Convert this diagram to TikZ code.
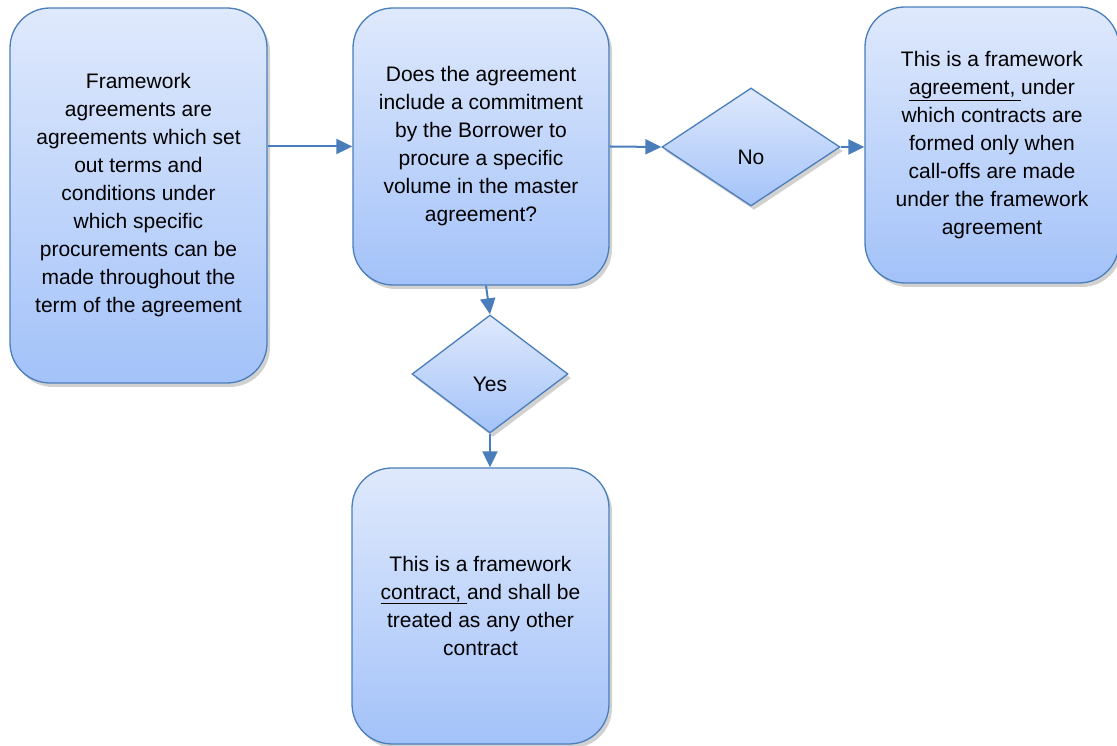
\documentclass[tikz,border=0pt]{standalone}
\usepackage{fontspec}
\setmainfont{Liberation Sans}
\usetikzlibrary{shapes.geometric,shadows,arrows.meta}
\definecolor{boxline}{RGB}{74,126,187}
\definecolor{boxtop}{RGB}{223,233,252}
\definecolor{boxbottom}{RGB}{163,194,249}
\tikzset{% change default arrow tips
    >={Triangle[length=16pt,width=15pt]}
}
\tikzset{
    shade/.style={draw=boxline, line width=1.3pt, top color=boxtop, bottom color=boxbottom,
        drop shadow={shadow xshift=3pt, shadow yshift=-4pt, fill=black!40, opacity=.45}},
    flowbox/.style={shade, rounded corners=40pt, align=center, inner sep=0pt,
        font=\fontsize{21}{28}\selectfont},
    decision/.style={shade, diamond, inner sep=0pt, text height=35pt, text depth=0pt,
        font=\fontsize{21}{28}\selectfont},
    flow/.style={->, draw=boxline, line width=2pt}
}

\begin{document}
\begin{tikzpicture}[x=1pt,y=1pt]
    \useasboundingbox (0,0) rectangle (1117,746);

    % boxes
    \node[flowbox, minimum width=257pt, minimum height=375pt] (frame) at (138.5,550.5)
        {Framework\\ agreements are\\ agreements which set\\ out terms and\\ conditions under\\
         which specific\\ procurements can be\\ made throughout the\\ term of the agreement};
    \node[flowbox, minimum width=256pt, minimum height=277pt] (ask) at (481,599.5)
        {Does the agreement\\ include a commitment\\ by the Borrower to\\ procure a specific\\
         volume in the master\\ agreement?};
    \node[flowbox, minimum width=254pt, minimum height=276pt] (agree) at (992,601)
        {This is a framework\\ \underline{agreement,\ }under\\ which contracts are\\
         formed only when\\ call-offs are made\\ under the framework\\ agreement};
    \node[flowbox, minimum width=257pt, minimum height=276pt] (contract) at (480.5,140)
        {This is a framework\\ \underline{contract,\ }and shall be\\ treated as any other\\ contract};

    % decisions
    \node[decision, minimum width=178pt, minimum height=118pt] (no) at (751,599) {No};
    \node[decision, minimum width=156pt, minimum height=118pt] (yes) at (490,372) {Yes};

    % arrows
    \draw[flow] (frame.east |- ask.west) -- (ask.west);
    \draw[flow] (ask.east) -- (no.west);
    \draw[flow] (no.east) -- (no.east -| agree.west);
    \draw[flow] ([xshift=5pt]ask.south) -- (yes.north);
    \draw[flow] (yes.south) -- (yes.south |- contract.north);
\end{tikzpicture}
\end{document}
